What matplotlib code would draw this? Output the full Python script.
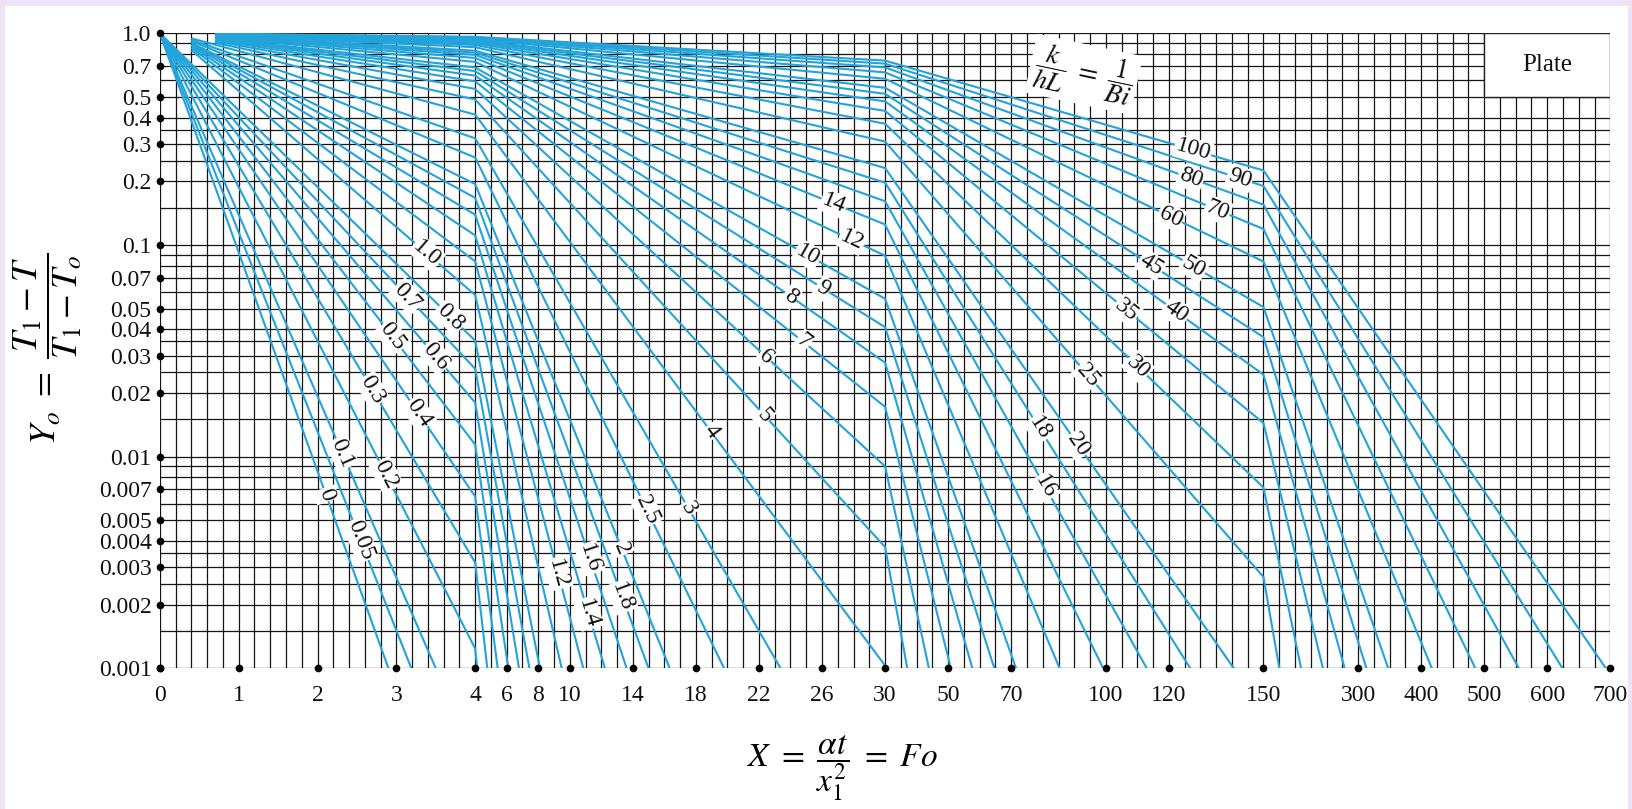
import numpy as np
import matplotlib
matplotlib.use("Agg")
import matplotlib.pyplot as plt
from matplotlib.patches import Rectangle

plt.rcParams["mathtext.fontset"] = "stix"
plt.rcParams["font.family"] = ["Liberation Serif", "DejaVu Serif"]

# one line for each k/hL = 1/Bi
names = ["0", "0.05", "0.1", "0.2", "0.3", "0.4", "0.5", "0.6", "0.7", "0.8",
         "1.0", "1.2", "1.4", "1.6", "1.8", "2", "2.5", "3", "4", "5", "6", "7",
         "8", "9", "10", "12", "14", "16", "18", "20", "25", "30", "35", "40",
         "45", "50", "60", "70", "80", "90", "100"]
# first point of each line
x_start = [0] * 10 + [0.4] * 9 + [0.7] * 22
y_start = [1.0] * 10 + [0.833, 0.854, 0.870, 0.883, 0.894, 0.902, 0.919, 0.932, 0.947,
                        0.904, 0.919, 0.930, 0.938, 0.944, 0.950, 0.958, 0.964, 0.968,
                        0.971, 0.974, 0.979, 0.983, 0.985, 0.987, 0.988, 0.990, 0.991,
                        0.993, 0.993, 0.994, 0.995]
nan = np.nan
# Y at the scale breaks X = 4, 30 and 150 (nan where the line has already ended)
y_at_4 = [nan, nan, nan, 0.00124, 0.00316, 0.00648, 0.0114, 0.0180, 0.0260, 0.0353,
          0.0580, 0.0837, 0.111, 0.139, 0.167, 0.194, 0.259, 0.319, 0.413, 0.487,
          0.546, 0.593, 0.631, 0.663, 0.690, 0.733, 0.765, 0.791, 0.811, 0.828,
          0.860, 0.881, 0.897, 0.909, 0.919, 0.927, 0.939, 0.947, 0.953, 0.958, 0.963]
y_at_30 = [nan] * 18 + [0.00103, 0.00374, 0.00900, 0.0172, 0.0278, 0.0409, 0.0557,
                        0.0890, 0.125, 0.161, 0.197, 0.231, 0.308, 0.374, 0.430,
                        0.477, 0.518, 0.553, 0.610, 0.654, 0.690, 0.719, 0.743]
y_at_150 = [nan] * 30 + [0.00270, 0.00715, 0.0144, 0.0244, 0.0367, 0.0509, 0.0835,
                         0.119, 0.155, 0.190, 0.225]
# X where each line reaches Y = 0.001
x_end = [2.90, 3.19, 3.50, 4.13, 4.77, 5.43, 6.10, 6.78, 7.44, 8.11,
         9.49, 10.86, 12.23, 13.61, 15.00, 16.34, 19.79, 23.37, 30.14, 37.04,
         43.91, 50.88, 57.68, 64.66, 71.54, 85.36, 99.17, 113.0, 126.8, 140.6,
         175.2, 209.7, 244.3, 278.8, 313.3, 347.8, 417.1, 486.0, 555.0, 624.2, 693.0]
# Y at which each line carries its label
label_y = [0.0066, 0.00404, 0.0104, 0.0082, 0.0207, 0.016, 0.0369, 0.0297, 0.057, 0.0458,
           0.0914, 0.00281, 0.00182, 0.00331, 0.00218, 0.00369, 0.0056, 0.0057, 0.0131, 0.0157,
           0.0297, 0.0349, 0.057, 0.0624, 0.0897, 0.1056, 0.157, 0.0072, 0.0136, 0.0114,
           0.0243, 0.0266, 0.0493, 0.0484, 0.0805, 0.079, 0.136, 0.1463, 0.2066, 0.2066, 0.281]

x_ticks = [0, 1, 2, 3, 4, 6, 8, 10, 14, 18, 22, 26, 30, 50, 70, 100, 120, 150,
           300, 400, 500, 600, 700]
y_ticks = [1.0, 0.7, 0.5, 0.4, 0.3, 0.2, 0.1, 0.07, 0.05, 0.04, 0.03, 0.02,
           0.01, 0.007, 0.005, 0.004, 0.003, 0.002, 0.001]
y_tick_labels = ["1.0", "0.7", "0.5", "0.4", "0.3", "0.2", "0.1", "0.07", "0.05",
                 "0.04", "0.03", "0.02", "0.01", "0.007", "0.005", "0.004",
                 "0.003", "0.002", "0.001"]

# piecewise X axis: each break compresses the scale five times
brk_x = [-4, 0, 4, 30, 150, 700, 1250]
brk_u = [-4, 0, 4, 9.2, 14, 18.4, 22.8]


def fwd(x):
    return np.interp(x, brk_x, brk_u)


def inv(u):
    return np.interp(u, brk_u, brk_x)


blue = "#22A3D9"
gridc = "#151515"
txtc = "#111111"

fig = plt.figure(figsize=(16.33, 8.09), dpi=100)
fig.patch.set_facecolor("#ECE4F4")
fig.add_artist(Rectangle((0.003, 0.0), 0.994, 0.993, transform=fig.transFigure,
                         facecolor="white", edgecolor="none", zorder=-5))

ax = fig.add_axes([0.0979, 0.1739, 0.8882, 0.7849])
ax.set_facecolor("white")
ax.set_xscale("function", functions=(fwd, inv))
ax.set_yscale("log")
ax.set_xlim(0, 700)
ax.set_ylim(0.001, 1.0)

# grid: 0.2 steps up to 4, then 1, 5 and 25
xg = np.concatenate([np.arange(0, 4, 0.2), np.arange(4, 30, 1),
                     np.arange(30, 150, 5), np.arange(150, 701, 25)])
yg = [m * 10.0 ** e for e in (-3, -2, -1)
      for m in (1, 1.5, 2, 2.5, 3, 3.5, 4, 5, 6, 7, 8, 9)] + [1.0]
ax.vlines(xg, 0.001, 1.0, colors=gridc, lw=0.9, zorder=1)
ax.hlines(yg, 0, 700, colors=gridc, lw=0.9, zorder=1)

for s in ax.spines.values():
    s.set_visible(False)

ax.set_xticks(x_ticks)
ax.set_xticklabels([str(v) for v in x_ticks])
ax.set_yticks(y_ticks)
ax.set_yticklabels(y_tick_labels)
ax.yaxis.set_minor_locator(matplotlib.ticker.NullLocator())
ax.xaxis.set_minor_locator(matplotlib.ticker.NullLocator())
ax.tick_params(axis="x", length=0, pad=12, labelsize=17, labelcolor=txtc)
ax.tick_params(axis="y", length=0, pad=6, labelsize=17, labelcolor=txtc)

ax.plot(x_ticks, [0.001] * len(x_ticks), "o", ms=4.5, color="k", clip_on=False, zorder=6)
ax.plot([0] * len(y_ticks), y_ticks, "o", ms=4.5, color="k", clip_on=False, zorder=6)

for i, name in enumerate(names):
    xs = [x_start[i]]
    ys = [y_start[i]]
    for kx, ky in ((4, y_at_4[i]), (30, y_at_30[i]), (150, y_at_150[i])):
        if not np.isnan(ky):
            xs.append(kx)
            ys.append(ky)
    xs.append(x_end[i])
    ys.append(0.001)
    ax.plot(xs, ys, color=blue, lw=1.5, zorder=2, solid_capstyle="butt")

    # place the label on the line, turned along its segment
    pts = ax.transData.transform(np.column_stack([xs, ys]))
    ty = ax.transData.transform((1.0, label_y[i]))[1]
    j = 0
    while j < len(pts) - 2 and pts[j + 1, 1] > ty:
        j += 1
    t = (pts[j, 1] - ty) / (pts[j, 1] - pts[j + 1, 1])
    px = pts[j, 0] + t * (pts[j + 1, 0] - pts[j, 0])
    ang = np.degrees(np.arctan2(pts[j + 1, 1] - pts[j, 1], pts[j + 1, 0] - pts[j, 0]))
    lx, ly = ax.transData.inverted().transform((px, ty))
    ax.text(lx, ly, name, fontsize=17, rotation=ang, rotation_mode="anchor",
            ha="center", va="center", color=txtc, zorder=3,
            bbox=dict(facecolor="white", edgecolor="none", pad=0.8))

ax.add_patch(Rectangle((500, 0.5), 200, 0.5, facecolor="white", edgecolor="#222",
                       lw=1.0, zorder=4))
ax.text(600, 0.707, "Plate", fontsize=18, ha="center", va="center", color=txtc, zorder=5)
ax.text(93, 0.64, r"$\dfrac{k}{hL}\ =\ \dfrac{1}{Bi}$", fontsize=20, rotation=-12,
        rotation_mode="anchor", ha="center", va="center", color=txtc, zorder=4,
        bbox=dict(facecolor="white", edgecolor="none", pad=3))

fig.text(0.516, 0.05, r"$X\ =\ \dfrac{\alpha t}{x_1^2}\ =\ Fo$", fontsize=24,
         ha="center", va="center")
fig.text(0.029, 0.569, r"$Y_o\ =\ \dfrac{T_1 - T}{T_1 - T_o}$", fontsize=26,
         rotation=90, ha="center", va="center")

fig.savefig("out.png", dpi=100, facecolor=fig.get_facecolor())
